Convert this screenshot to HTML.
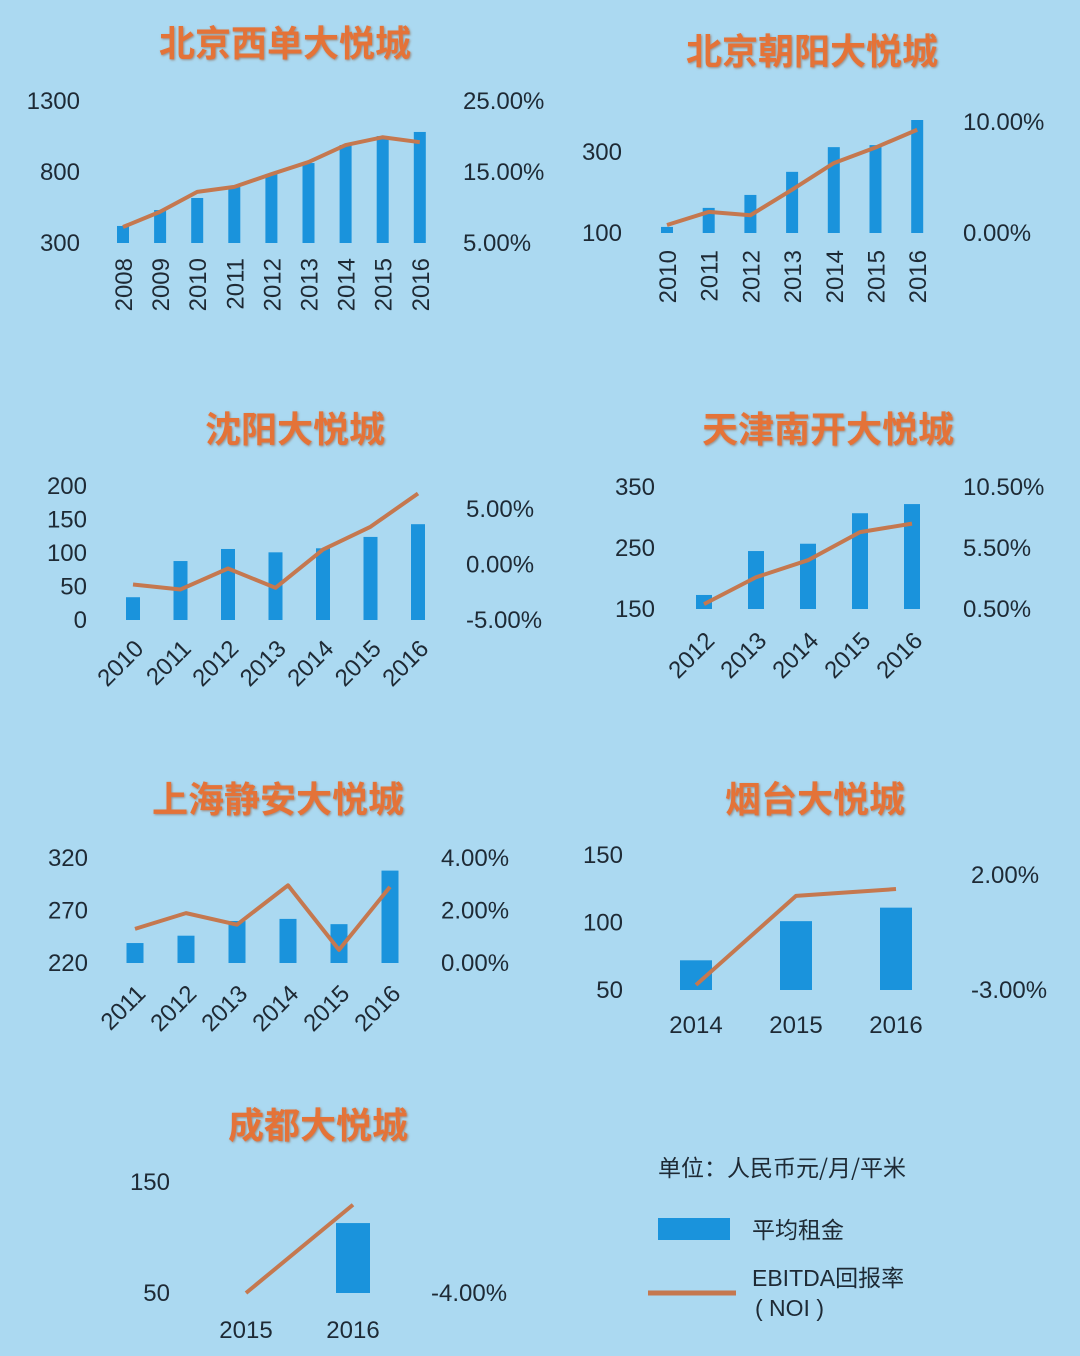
<!DOCTYPE html>
<html><head><meta charset="utf-8"><style>
html,body{margin:0;padding:0;background:#abd9f1;}
svg{display:block;}
text{font-family:"Liberation Sans","Noto Sans CJK SC",sans-serif;}
.t{fill:#1e2a35;font-size:24px;}
.title{fill:#e47339;font-size:36px;font-weight:bold;font-family:"Noto Sans CJK SC","WenQuanYi Zen Hei",sans-serif;}
</style></head><body>
<svg id="s" width="1080" height="1356" viewBox="0 0 1080 1356">
<defs><filter id="sh"><feDropShadow dx="1" dy="1" stdDeviation="1" flood-color="#8a5a40" flood-opacity="0.6"/></filter></defs>
<rect width="1080" height="1356" fill="#abd9f1"/>
<g>
<text x="658" y="1176" style="font-size:23px;fill:#1e2a35;font-family:'Noto Sans CJK SC',sans-serif">单位：人民币元/月/平米</text>
<rect x="658" y="1218" width="72" height="22" fill="#1a93dc"/>
<text x="752" y="1238" style="font-size:23px;fill:#1e2a35;font-family:'Noto Sans CJK SC',sans-serif">平均租金</text>
<line x1="648" y1="1293" x2="736" y2="1293" stroke="#c5784f" stroke-width="5"/>
<text x="752" y="1286" style="font-size:23px;fill:#1e2a35;font-family:'Liberation Sans','Noto Sans CJK SC',sans-serif">EBITDA回报率</text>
<text x="755" y="1316" style="font-size:23px;fill:#1e2a35">( NOI )</text>
</g>
</svg>
<script>
// Data arrays
const c1Years=['2008','2009','2010','2011','2012','2013','2014','2015','2016'];
const c1Rent=[420,532,617,694,786,863,990,1053,1082];
const c1Noi=[7.25,9.4,12.2,12.9,14.7,16.4,18.8,19.9,19.2];
const c1LeftTicks=[300,800,1300];
const c1RightTicks=[5,15,25];

const c2Years=['2010','2011','2012','2013','2014','2015','2016'];
const c2Rent=[115,162,194,251,312,317,379];
const c2Noi=[0.72,1.9,1.6,3.9,6.3,7.7,9.3];
const c2LeftTicks=[100,300];
const c2RightTicks=[0,10];

const c3Years=['2010','2011','2012','2013','2014','2015','2016'];
const c3Rent=[34,88,106,101,107,124,143];
const c3Noi=[-1.8,-2.25,-0.36,-2.1,1.35,3.4,6.4];
const c3LeftTicks=[0,50,100,150,200];
const c3RightTicks=[-5,0,5];

const c4Years=['2012','2013','2014','2015','2016'];
const c4Rent=[173,245,257,307,322];
const c4Noi=[0.9,3.1,4.5,6.8,7.5];
const c4LeftTicks=[150,250,350];
const c4RightTicks=[0.5,5.5,10.5];

const c5Years=['2011','2012','2013','2014','2015','2016'];
const c5Rent=[239,246,260,262,257,308];
const c5Noi=[1.3,1.9,1.46,2.96,0.5,2.9];
const c5LeftTicks=[220,270,320];
const c5RightTicks=[0,2,4];

const c6Years=['2014','2015','2016'];
const c6Rent=[72,101,111];
const c6Noi=[-2.78,1.09,1.39];
const c6LeftTicks=[50,100,150];
const c6RightTicks=[-3,2];

const c7Years=['2015','2016'];
const c7Rent=[50,113];
const c7Noi=[-4,-2.41];
const c7LeftTicks=[50,150];
const c7RightTicks=[-4];

const NS='http://www.w3.org/2000/svg';
const svg=document.getElementById('s');
function el(tag,attrs,parent,txt){const e=document.createElementNS(NS,tag);for(const k in attrs)e.setAttribute(k,attrs[k]);if(txt!==undefined)e.textContent=txt;parent.appendChild(e);return e;}

function chart(o){
  const g=el('g',{},svg);
  
  
  const yL=v=>o.lY0+(v-o.lV0)*(o.lY1-o.lY0)/(o.lV1-o.lV0);
  const yR=v=>o.rY0+(v-o.rV0)*(o.rY1-o.rY0)/(o.rV1-o.rV0);
  const xS=i=>o.x0+i*o.dx;
  const t=el('text',{x:o.tx,y:o.ty,'class':'title','text-anchor':'middle',filter:'url(#sh)'},g,o.title);
  
  
  o.lt.forEach(v=>{const e=el('text',{x:o.lx,y:yL(v)+8,'class':'t','text-anchor':'end'},g,String(v));
    
    });
  o.rt.forEach(v=>{const e=el('text',{x:o.rx,y:yR(v)+8,'class':'t'},g,v.toFixed(2)+'%');
    
    });
  o.rent.forEach((v,i)=>{const top=yL(v),base=yL(o.lV0);
    const b=el('rect',{x:xS(i)-o.bw/2,y:Math.min(top,base),width:o.bw,height:Math.abs(base-top),fill:'#1a93dc'},g);
    
    });
  const pts=o.noi.map((v,i)=>xS(i)+','+yR(v)).join(' ');
  const l=el('polyline',{points:pts,fill:'none',stroke:'#c5784f','stroke-width':4,'stroke-linejoin':'round'},g);
  
  
  o.years.forEach((y,i)=>{let e;const x=xS(i);
    if(o.rot===-90){e=el('text',{x:0,y:0,'class':'t','text-anchor':'end',transform:`translate(${x+9},${o.ly}) rotate(-90)`},g,y);}
    else if(o.rot===-45){e=el('text',{x:0,y:0,'class':'t','text-anchor':'end',transform:`translate(${x+12},${o.ly}) rotate(-45)`},g,y);}
    else{e=el('text',{x:x,y:o.ly,'class':'t','text-anchor':'middle'},g,y);}
    
    });
}

chart({name:'chart-beijing-xidan',title:'北京西单大悦城',tx:285,ty:56,years:c1Years,rent:c1Rent,noi:c1Noi,lt:c1LeftTicks,rt:c1RightTicks,
 lV0:300,lY0:243,lV1:1300,lY1:101,rV0:5,rY0:243,rV1:25,rY1:101,x0:123,dx:37.1,bw:12,lx:80,rx:463,ly:258,rot:-90});
chart({name:'chart-beijing-chaoyang',title:'北京朝阳大悦城',tx:812,ty:64,years:c2Years,rent:c2Rent,noi:c2Noi,lt:c2LeftTicks,rt:c2RightTicks,
 lV0:100,lY0:233,lV1:300,lY1:152,rV0:0,rY0:233,rV1:10,rY1:122,x0:667,dx:41.7,bw:12,lx:622,rx:963,ly:250,rot:-90});
chart({name:'chart-shenyang',title:'沈阳大悦城',tx:295,ty:442,years:c3Years,rent:c3Rent,noi:c3Noi,lt:c3LeftTicks,rt:c3RightTicks,
 lV0:0,lY0:620,lV1:200,lY1:486,rV0:-5,rY0:620,rV1:5,rY1:509,x0:133,dx:47.5,bw:14,lx:87,rx:466,ly:650,rot:-45});
chart({name:'chart-tianjin-nankai',title:'天津南开大悦城',tx:828,ty:442,years:c4Years,rent:c4Rent,noi:c4Noi,lt:c4LeftTicks,rt:c4RightTicks,
 lV0:150,lY0:609,lV1:350,lY1:487,rV0:0.5,rY0:609,rV1:10.5,rY1:487,x0:704,dx:52,bw:16,lx:655,rx:963,ly:642,rot:-45});
chart({name:'chart-shanghai-jingan',title:'上海静安大悦城',tx:278,ty:812,years:c5Years,rent:c5Rent,noi:c5Noi,lt:c5LeftTicks,rt:c5RightTicks,
 lV0:220,lY0:963,lV1:320,lY1:858,rV0:0,rY0:963,rV1:4,rY1:858,x0:135,dx:51,bw:17,lx:88,rx:441,ly:995,rot:-45});
chart({name:'chart-yantai',title:'烟台大悦城',tx:815,ty:812,years:c6Years,rent:c6Rent,noi:c6Noi,lt:c6LeftTicks,rt:c6RightTicks,
 lV0:50,lY0:990,lV1:150,lY1:855,rV0:-3,rY0:990,rV1:2,rY1:875,x0:696,dx:100,bw:32,lx:623,rx:971,ly:1033,rot:0});
chart({name:'chart-chengdu',title:'成都大悦城',tx:318,ty:1138,years:c7Years,rent:c7Rent,noi:c7Noi,lt:c7LeftTicks,rt:c7RightTicks,
 lV0:50,lY0:1293,lV1:150,lY1:1182,rV0:-4,rY0:1293,rV1:-2,rY1:1182,x0:246,dx:107,bw:34,lx:170,rx:431,ly:1338,rot:0});
</script>
</body></html>
